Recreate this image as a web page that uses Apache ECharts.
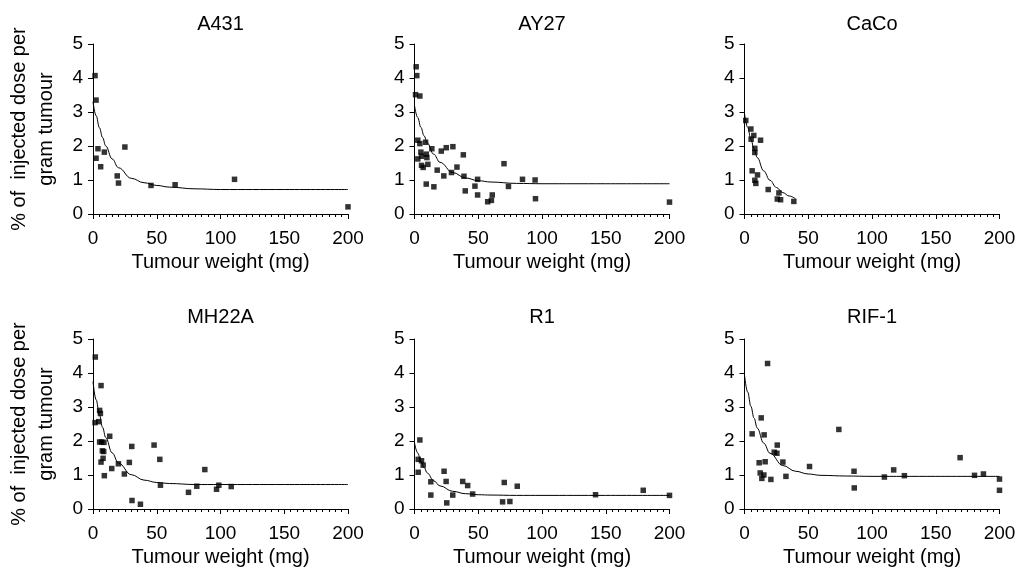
<!DOCTYPE html>
<html>
<head>
<meta charset="utf-8">
<script src="https://cdn.jsdelivr.net/npm/echarts@6/dist/echarts.min.js"></script>
<style>
html,body{margin:0;padding:0;background:#fff;}
#chart{width:1020px;height:568px;}
</style>
</head>
<body>
<div id="chart"></div>
<script>
// ---- data ----
const panelNames = ['A431', 'AY27', 'CaCo', 'MH22A', 'R1', 'RIF-1'];
const xTicks = [0, 50, 100, 150, 200];
const yTicks = [0, 1, 2, 3, 4, 5];
const xAxisTitle = 'Tumour weight (mg)';
const yAxisTitle = '% of  injected dose per\ngram tumour';

const a431Points = [[1.6,4.07],[2.4,3.35],[3.9,1.92],[2.4,1.64],[6,1.39],[8.9,1.82],[19,1.12],[20,0.91],[25,1.97],[45.5,0.84],[64.4,0.86],[111,1.02],[200,0.21]];
const a431Fit = [[0,3.30],[2.5,2.89],[5,2.54],[7.5,2.25],[10,2.00],[15,1.62],[20,1.36],[30,1.05],[40,0.92],[50,0.84],[60,0.79],[80,0.74],[100,0.72],[150,0.72],[200,0.72]];

const ay27Points = [[1.3,4.33],[1.8,4.07],[0.8,3.51],[4.2,3.47],[2.6,2.17],[4.2,2.07],[2.6,1.62],[5,1.82],[5.5,1.70],[5.5,1.43],[6.8,1.37],[8.7,2.11],[9.2,1.76],[9.7,1.66],[10.5,1.46],[9.2,0.88],[13.6,1.92],[15.2,0.80],[17.8,1.29],[21,1.85],[23,1.12],[24.9,1.95],[29,1.22],[30.1,1.98],[33.3,1.38],[38.3,1.74],[38.8,1.11],[39.8,0.68],[47.4,0.82],[49.5,1.02],[49.5,0.56],[57.4,0.36],[60.3,0.40],[61,0.56],[70.2,1.48],[73.7,0.81],[84.7,1.02],[94.6,1.00],[94.9,0.45],[200,0.35]];
const ay27Fit = [[0,3.19],[2.5,2.84],[5,2.55],[7.5,2.30],[10,2.09],[15,1.76],[20,1.52],[30,1.22],[40,1.06],[50,0.98],[60,0.94],[80,0.90],[100,0.89],[150,0.89],[200,0.89]];

const cacoPoints = [[1,2.75],[5,2.50],[5.2,2.20],[7.3,2.31],[8.1,1.93],[8.1,1.81],[12.6,2.17],[6,1.27],[10.2,1.15],[8.1,0.99],[8.9,0.90],[18.6,0.72],[27,0.62],[25.7,0.44],[28.3,0.42],[38.7,0.37]];
const cacoFit = [[0,2.95],[2.5,2.55],[5,2.20],[7.5,1.91],[10,1.66],[15,1.27],[20,0.99],[25,0.78],[30,0.63],[35,0.53],[40,0.45]];

const mh22aPoints = [[1.8,4.47],[1.6,2.54],[4.5,2.57],[6.3,3.63],[5.2,2.90],[5.8,2.81],[5.2,1.97],[6.8,1.97],[8.6,1.96],[7.3,1.71],[8.4,1.69],[7.9,1.49],[6.3,1.38],[8.9,0.98],[13.1,2.14],[14.7,1.19],[19.9,1.33],[24.6,1.03],[28.5,1.37],[30.4,1.84],[30.6,0.25],[37.2,0.14],[47.9,1.88],[52.4,1.46],[52.9,0.70],[74.9,0.49],[81.4,0.67],[87.7,1.16],[96.9,0.58],[98.7,0.70],[108.4,0.66]];
const mh22aFit = [[0,3.75],[2.5,3.21],[5,2.77],[7.5,2.40],[10,2.10],[15,1.65],[20,1.35],[30,1.01],[40,0.85],[50,0.78],[60,0.75],[80,0.72],[100,0.72],[150,0.72],[200,0.72]];

const r1Points = [[4.2,2.03],[2.9,1.46],[5.5,1.42],[6.8,1.29],[2.9,1.08],[12.8,0.80],[12.8,0.41],[23.2,1.11],[24.8,0.81],[25.3,0.18],[30,0.41],[37.8,0.81],[41.7,0.69],[45.6,0.44],[69.1,0.21],[70.4,0.78],[74.8,0.22],[80.6,0.67],[142,0.42],[179.4,0.55],[200,0.40]];
const r1Fit = [[0,1.95],[2.5,1.65],[5,1.41],[7.5,1.22],[10,1.06],[15,0.83],[20,0.68],[30,0.52],[40,0.45],[50,0.42],[60,0.41],[80,0.40],[100,0.40],[150,0.40],[200,0.40]];

const rif1Points = [[6,2.21],[18.1,4.28],[13.1,2.68],[15.4,2.18],[11.5,1.36],[16.2,1.39],[12.3,1.06],[15.2,1.00],[13.6,0.90],[20.7,0.87],[25.7,1.88],[23.3,1.67],[25.4,1.64],[30.1,1.38],[32.5,0.96],[51,1.25],[74,2.34],[85.9,1.11],[86.1,0.62],[109.7,0.94],[117,1.15],[125.4,0.98],[169.1,1.51],[180.4,0.99],[187.4,1.03],[200,0.88],[200,0.55]];
const rif1Fit = [[0,3.94],[2.5,3.44],[5,3.02],[7.5,2.67],[10,2.38],[15,1.94],[20,1.64],[30,1.28],[40,1.11],[50,1.03],[60,0.99],[80,0.97],[100,0.96],[150,0.96],[200,0.96]];

const allPoints = [a431Points, ay27Points, cacoPoints, mh22aPoints, r1Points, rif1Points];
const allFits = [a431Fit, ay27Fit, cacoFit, mh22aFit, r1Fit, rif1Fit];

// ---- layout ----
const FONT = '"Liberation Sans", Arial, Helvetica, sans-serif';
const colLeft = [93, 414.5, 744.5];
const rowTop = [44, 339];
const gw = 255, gh = 170;

const grids = [], xAxes = [], yAxes = [], series = [], graphics = [];
panelNames.forEach((name, i) => {
  const c = i % 3, r = Math.floor(i / 3);
  grids.push({left: colLeft[c], top: rowTop[r], width: gw, height: gh, containLabel: false});
  xAxes.push({
    type: 'value', gridIndex: i,
    min: xTicks[0], max: xTicks[xTicks.length - 1], interval: xTicks[1] - xTicks[0],
    name: xAxisTitle, nameLocation: 'middle', nameGap: 38,
    nameTextStyle: {color: '#000', fontSize: 20, fontFamily: FONT},
    axisLine: {show: true, onZero: false, lineStyle: {color: '#000', width: 1}},
    axisTick: {show: true, length: 5, lineStyle: {color: '#000', width: 1}},
    minorTick: {show: true, splitNumber: 10, length: 3, lineStyle: {color: '#000', width: 1}},
    axisLabel: {color: '#000', fontSize: 19, fontFamily: FONT, margin: 15},
    splitLine: {show: false}
  });
  yAxes.push({
    type: 'value', gridIndex: i,
    min: yTicks[0], max: yTicks[yTicks.length - 1], interval: yTicks[1] - yTicks[0],
    axisLine: {show: true, onZero: false, lineStyle: {color: '#000', width: 1}},
    axisTick: {show: true, length: 5, lineStyle: {color: '#000', width: 1}},
    axisLabel: {color: '#000', fontSize: 19, fontFamily: FONT, margin: 10},
    splitLine: {show: false}
  });
  series.push({
    type: 'line', xAxisIndex: i, yAxisIndex: i, data: allFits[i],
    smooth: 0.4, smoothMonotone: 'x', showSymbol: false, symbol: 'none',
    lineStyle: {color: '#000', width: 1}, silent: true, z: 2
  });
  series.push({
    type: 'scatter', xAxisIndex: i, yAxisIndex: i, data: allPoints[i],
    symbol: 'rect', symbolSize: 5.5, itemStyle: {color: '#000'}, z: 3
  });
  graphics.push({
    type: 'text', x: colLeft[c] + gw / 2, y: r === 0 ? 24 : 317,
    style: {text: name, fill: '#000', font: '20px ' + FONT, align: 'center', verticalAlign: 'middle'}
  });
  if (c === 0) {
    graphics.push({
      type: 'text', x: 33, y: rowTop[r] + gh / 2, rotation: Math.PI / 2,
      style: {text: yAxisTitle, fill: '#000', font: '20px ' + FONT, align: 'center', verticalAlign: 'middle', lineHeight: 27}
    });
  }
});

const chart = echarts.init(document.getElementById('chart'), null, {renderer: 'canvas'});
chart.setOption({
  backgroundColor: '#fff',
  animation: false,
  grid: grids,
  xAxis: xAxes,
  yAxis: yAxes,
  series: series,
  graphic: graphics
});
</script>
</body>
</html>
